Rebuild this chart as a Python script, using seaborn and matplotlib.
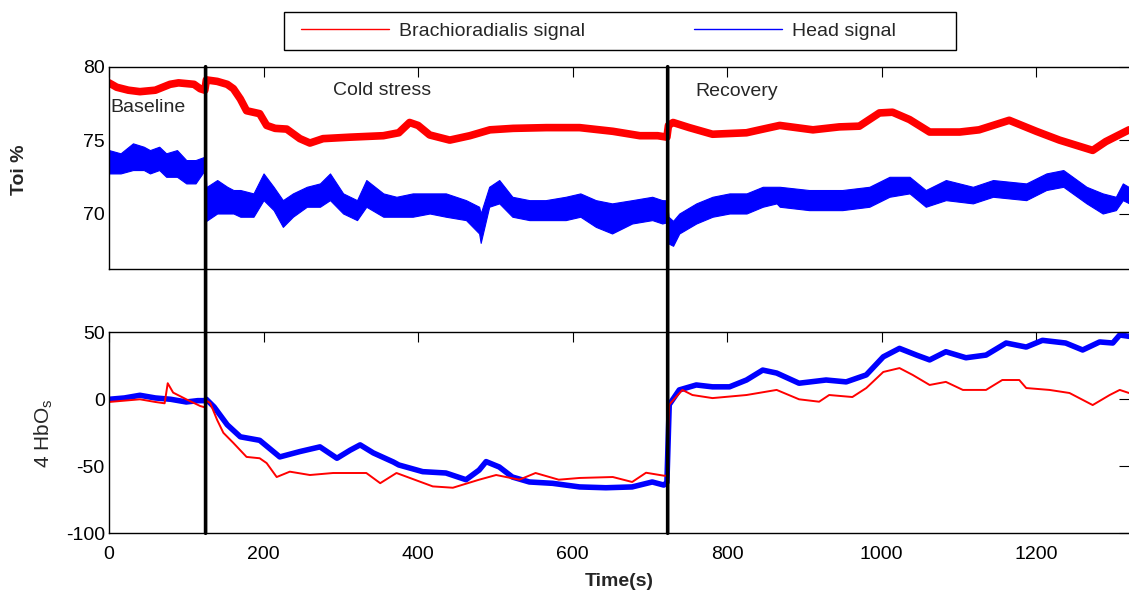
# Toi % e HbO2 - sinal do braquiorradial vs cabeça
import numpy as np
import matplotlib
matplotlib.use("Agg")
import matplotlib.pyplot as plt
import seaborn as sns
from matplotlib.lines import Line2D
from matplotlib.patches import ConnectionPatch, Rectangle

# limites das fases (s)
phase_bounds = [125, 723]
phase_names = ["Baseline", "Cold stress", "Recovery"]

# Toi % - braquiorradial (vermelho)
toi_brach_t = [0, 10, 25, 40, 60, 79, 90, 110, 118, 124, 126, 140, 153, 161, 170, 178, 195, 204, 215, 230,
               247, 260, 277, 312, 355, 375, 389, 400, 415, 441, 467, 493, 523, 566, 609, 652, 687, 710, 722,
               724, 730, 751, 781, 825, 842, 868, 911, 945, 971, 997, 1014, 1036, 1062, 1101, 1126, 1165,
               1200, 1230, 1273, 1290, 1320]
toi_brach = [78.9, 78.6, 78.4, 78.3, 78.4, 78.8, 78.9, 78.8, 78.5, 78.4, 79.1, 79.0, 78.8, 78.5, 77.8, 77.0,
             76.8, 76.0, 75.8, 75.75, 75.1, 74.8, 75.1, 75.2, 75.3, 75.5, 76.2, 76.0, 75.35, 75.0, 75.3, 75.7,
             75.8, 75.85, 75.85, 75.6, 75.3, 75.3, 75.2,
             76.0, 76.2, 75.85, 75.4, 75.5, 75.7, 76.0, 75.7, 75.9, 75.95, 76.85, 76.9, 76.4, 75.55, 75.55,
             75.7, 76.35, 75.6, 75.0, 74.3, 74.9, 75.7]

# Toi % - cabeça (azul), envelope inferior / superior
toi_head_t = [0, 15, 31, 45, 53, 65, 74, 88, 100, 112, 124, 126, 140, 153, 161, 170, 187, 200, 213, 225,
              238, 256, 273, 286, 303, 321, 333, 355, 372, 393, 415, 436, 462, 479, 481, 492, 505, 522, 544,
              565, 591, 610, 630, 651, 677, 703, 716, 722,
              724, 730, 738, 760, 781, 803, 825, 846, 864, 868, 906, 949, 984, 1010, 1036, 1057, 1083, 1118,
              1144, 1187, 1213, 1235, 1265, 1286, 1303, 1312, 1320]
toi_head_lo = [72.73, 72.73, 72.96, 72.96, 72.73, 72.96, 72.5, 72.5, 72.05, 72.05, 72.96, 69.5, 70.0, 70.0,
               70.0, 69.78, 69.78, 70.91, 70.23, 69.09, 69.78, 70.46, 70.46, 70.91, 70.0, 69.55, 70.46, 69.78,
               69.78, 69.78, 70.0, 69.78, 69.55, 68.64, 68.0, 70.46, 70.69, 69.78, 69.55, 69.55, 69.55, 69.78,
               69.09, 68.64, 69.32, 69.55, 69.32, 69.4,
               67.96, 67.8, 68.64, 69.32, 69.78, 70.0, 70.0, 70.46, 70.69, 70.46, 70.23, 70.23, 70.46, 71.14,
               71.37, 70.46, 70.91, 70.69, 71.14, 70.91, 71.6, 71.82, 70.69, 70.0, 70.23, 70.91, 70.7]
toi_head_hi = [74.32, 74.1, 74.78, 74.55, 74.32, 74.55, 74.1, 74.32, 73.64, 73.64, 73.87, 71.8, 72.28, 71.82,
               71.6, 71.6, 71.37, 72.73, 71.82, 70.91, 71.37, 71.82, 72.05, 72.73, 71.37, 70.91, 72.28, 71.37,
               71.14, 71.37, 71.37, 71.37, 70.91, 70.46, 70.0, 71.82, 72.28, 71.14, 70.91, 70.91, 71.14, 71.37,
               70.91, 70.69, 70.91, 71.14, 70.91, 70.9,
               69.78, 69.5, 70.0, 70.69, 71.14, 71.37, 71.37, 71.82, 71.82, 71.82, 71.6, 71.6, 71.82, 72.5,
               72.5, 71.6, 72.28, 71.82, 72.28, 72.05, 72.73, 72.96, 71.82, 71.37, 71.14, 72.05, 71.8]

# HbO - braquiorradial (vermelho)
hbo_brach_t = [0, 20, 40, 60, 72, 76, 83, 100, 118, 124, 126, 131, 140, 148, 161, 178, 195, 204, 217, 234,
               260, 290, 312, 333, 351, 372, 419, 445, 479, 501, 531, 552, 582, 609, 652, 677, 695, 718, 722,
               725, 742, 755, 781, 825, 864, 893, 919, 932, 962, 980, 1002, 1023, 1040, 1062, 1083, 1105,
               1135, 1156, 1178, 1187, 1217, 1243, 1273, 1295, 1308, 1320]
hbo_brach = [-2, -1, 0, -2, -3, 12, 5, 0, -5, -6, -1, -2.8, -15.5, -25, -32.6, -43, -44, -47.6, -58, -54,
             -56.5, -55, -55, -55, -62.6, -55, -65, -66, -60, -56.5, -60, -55, -60, -58.7, -58, -61.7, -54.8,
             -57, -57,
             -4, 7, 3.2, 0.9, 3.2, 7, 0, -1.8, 3.2, 1.7, 8.4, 20.4, 23.3, 18.2, 10.7, 13, 7, 7, 14.4, 14.4,
             8.4, 7, 4.7, -4.3, 3.2, 7, 4.7]

# HbO - cabeça (azul)
hbo_head_t = [0, 20, 40, 60, 80, 100, 115, 124, 126, 136, 153, 170, 195, 221, 247, 273, 295, 312, 325, 342,
              368, 375, 406, 436, 462, 479, 488, 505, 522, 544, 574, 609, 643, 677, 703, 718, 722,
              725, 738, 760, 781, 803, 825, 846, 864, 893, 928, 954, 980, 1002, 1023, 1045, 1062, 1083, 1109,
              1135, 1161, 1187, 1208, 1238, 1260, 1282, 1299, 1308, 1320]
hbo_head = [0, 1, 3, 1, 0, -2, -1, -1, 0, -5.7, -19, -28, -30.6, -43, -39, -35.5, -44, -38, -34, -40,
            -46.8, -49, -54, -55, -60, -52.8, -46.5, -50.5, -58, -61.7, -62.7, -65.4, -66, -65.4, -61.7, -64, -62,
            -4, 7, 10.7, 9.3, 9.3, 14.4, 21.8, 19.6, 12, 14.4, 13, 18.2, 31.7, 38, 33, 29.4, 35.5, 31, 33, 42,
            39, 44, 42, 36.8, 42.8, 42, 48, 47]

RED = "#ff0000"
BLUE = "#0000ff"

sns.set_style("white")
plt.rcParams['font.family'] = ['Liberation Sans', 'DejaVu Sans']
plt.rcParams['axes.unicode_minus'] = False

W, H = 1129, 595
fig = plt.figure(figsize=(W / 100, H / 100), dpi=100)
ax1 = fig.add_axes([109 / W, 1 - 269.3 / H, 1020 / W, 202.6 / H])
ax2 = fig.add_axes([109 / W, 1 - 533.3 / H, 1020 / W, 201 / H])

# painel de cima
ax1.fill_between(toi_head_t, toi_head_lo, toi_head_hi, color=BLUE, lw=0.8)
sns.lineplot(x=toi_brach_t, y=toi_brach, ax=ax1, color=RED, lw=5.5)
ax1.set_xlim(0, 1320)
ax1.set_ylim(66.2, 80)
ax1.set_yticks([70, 75, 80])
ax1.set_ylabel("Toi %", fontsize=14, fontweight="bold")
ax1.yaxis.set_label_coords(-0.079, 0.49)

ax1.text(1.5, 77.2, phase_names[0], fontsize=14, va="center", ha="left")
ax1.text(290, 78.4, phase_names[1], fontsize=14, va="center", ha="left")
ax1.text(759, 78.3, phase_names[2], fontsize=14, va="center", ha="left")

# painel de baixo
sns.lineplot(x=hbo_head_t, y=hbo_head, ax=ax2, color=BLUE, lw=4)
sns.lineplot(x=hbo_brach_t, y=hbo_brach, ax=ax2, color=RED, lw=1.4)
ax2.set_xlim(0, 1320)
ax2.set_ylim(-100, 50)
ax2.set_yticks([-100, -50, 0, 50])
ax2.set_ylabel("4 HbO$_\\mathregular{s}$", fontsize=15)
ax2.yaxis.set_label_coords(-0.053, 0.50)

for ax in (ax1, ax2):
    ax.set_xticks([0, 200, 400, 600, 800, 1000, 1200])
    ax.tick_params(direction="in", top=True, right=True, length=7, width=0.8,
                   labelsize=14, pad=3, colors="black")
    for s in ax.spines.values():
        s.set_color("black")
        s.set_linewidth(1.0)
    ax.spines["right"].set_visible(False)
ax1.tick_params(labelbottom=False)
ax2.tick_params(axis="x", pad=9)
ax2.set_xlabel("Time(s)", fontsize=14, fontweight="bold", labelpad=7)

# linhas verticais das fases atravessando os dois painéis
for t in phase_bounds:
    con = ConnectionPatch(xyA=(t, 1), coordsA=ax1.get_xaxis_transform(),
                          xyB=(t, 0), coordsB=ax2.get_xaxis_transform(),
                          color="black", lw=2.6)
    fig.add_artist(con)

# legenda (caixa estilo matlab)
handles = [Line2D([], [], color=RED, lw=1), Line2D([], [], color=BLUE, lw=1)]
fig.legend(handles, ["Brachioradialis signal", "Head signal"], ncol=2,
           loc="center left", bbox_to_anchor=(301 / W, 1 - 31 / H),
           fontsize=14, handlelength=4.5, columnspacing=5.6, handletextpad=0.55,
           borderpad=0, borderaxespad=0, frameon=False)
fig.add_artist(Rectangle((284 / W, 1 - 49.5 / H), 672 / W, 37.5 / H, transform=fig.transFigure,
                         fill=False, edgecolor="black", lw=1.0))

fig.savefig("out.png", dpi=100)
